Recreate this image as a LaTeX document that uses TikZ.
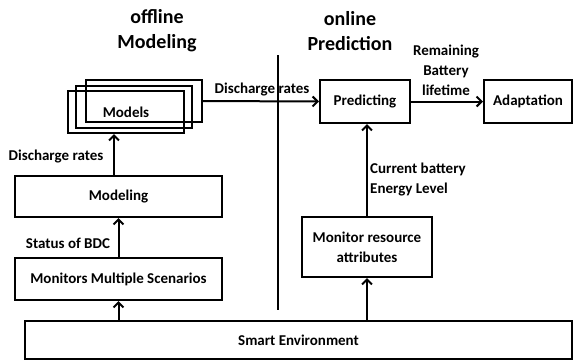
\documentclass[tikz,border=0pt]{standalone}
\usepackage{fontspec}
\setmainfont{Carlito}
\usetikzlibrary{arrows.meta}
\begin{document}
\begin{tikzpicture}[x=1pt,y=-1pt,
  box/.style={draw,line width=2pt,inner sep=0pt,align=center,font=\bfseries\fontsize{15}{20}\selectfont},
  lbl/.style={inner sep=0pt,font=\bfseries\fontsize{15}{20}\selectfont},
  ttl/.style={inner sep=0pt,align=center,font=\bfseries\fontsize{20}{25}\selectfont},
  arr/.style={line width=2pt,-{Straight Barb[length=5pt,width=10pt,line width=2pt]}}]
\useasboundingbox (0,0) rectangle (574,360);

% titles
\node[ttl] (toff) at (157,31) {offline\\Modeling};
\node[ttl] (ton) at (350,31) {online\\Prediction};

% divider between the two phases
\coordinate (dtop) at (278,55);
\coordinate (dbot) at (278,310);
\draw[line width=2pt] (dtop) -- (dbot);

% stacked model boxes
\node[box,minimum width=116pt,minimum height=42pt] (mback) at (144,101) {};
\node[box,minimum width=116pt,minimum height=42pt] (mmid) at (134,107) {};
\node[box,minimum width=116pt,minimum height=42pt] (mfront) at (126,112) {Models};

% offline chain
\node[box,minimum width=207pt,minimum height=41pt] (modeling) at (118.5,196.5) {Modeling};
\node[box,minimum width=207pt,minimum height=42pt] (monitors) at (118.5,279) {Monitors Multiple Scenarios};

% online chain
\node[box,minimum width=90pt,minimum height=43pt] (pred) at (365,101.5) {Predicting};
\node[box,minimum width=88pt,minimum height=43pt] (adapt) at (528,101.5) {Adaptation};
\node[box,minimum width=130pt,minimum height=60pt] (mra) at (367,247) {Monitor resource\\attributes};

% environment
\node[box,minimum width=547pt,minimum height=38pt] (env) at (298.5,340) {Smart Environment};

% connectors
\draw[arr] ([xshift=-4.5pt]modeling.north) -- ([xshift=-4.5pt]modeling.north |- mfront.south);
\draw[arr] (monitors.north) -- (modeling.south);
\draw[arr] (monitors.south |- env.north) -- (monitors.south);
\draw[arr] (mra.south |- env.north) -- (mra.south);
\draw[arr] (mra.north) -- (mra.north |- pred.south);
\draw[arr] (mback.east) -- (pred.west);
\draw[arr] (pred.east) -- (adapt.west);

% connector labels
\node[lbl] (l1) at (56,157) {Discharge rates};
\node[lbl] (l2) at (68,243) {Status of BDC};
\node[lbl] (l3) at (262,90) {Discharge rates};
\node[lbl,align=center] (l4) at (446,70.5) {Remaining\\Battery\\lifetime};
\node[lbl,align=left,anchor=west] (l5) at (370,180) {Current battery\\Energy Level};
\end{tikzpicture}
\end{document}
